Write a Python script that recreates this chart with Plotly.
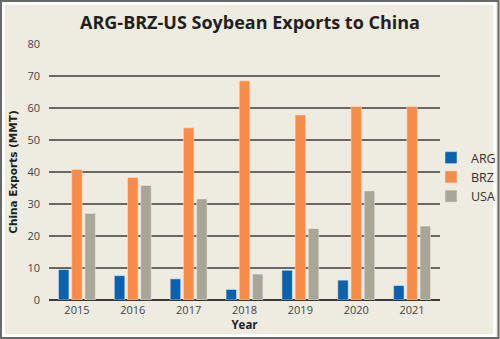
import plotly.graph_objects as go

years = ["2015", "2016", "2017", "2018", "2019", "2020", "2021"]
arg = [9.5, 7.6, 6.6, 3.3, 9.3, 6.2, 4.5]
brz = [40.8, 38.3, 53.8, 68.5, 57.8, 60.5, 60.5]
usa = [27.0, 35.8, 31.6, 8.1, 22.3, 34.1, 23.1]
y_ticks = [0, 10, 20, 30, 40, 50, 60, 70, 80]

W, H = 500, 339
L, R, T, B = 49, 60, 44, 39
pw, ph = W - L - R, H - T - B

def px(x):
    return (x - L) / pw

def py(y):
    return (H - B - y) / ph

fig = go.Figure()
fig.add_bar(name="ARG", x=years, y=arg, marker_color="#0A62AE")
fig.add_bar(name="BRZ", x=years, y=brz, marker_color="#F98B48")
fig.add_bar(name="USA", x=years, y=usa, marker_color="#A8A797")

font = "Open Sans"
fig.update_layout(
    width=W, height=H,
    margin=dict(l=L, r=R, t=T, b=B, autoexpand=False),
    paper_bgcolor="#EEEBE1", plot_bgcolor="#EEEBE1",
    barmode="group", bargap=0.29, bargroupgap=0.21,
    font=dict(family=font, color="#444444", size=11),
    title=dict(text="<b>ARG-BRZ-US Soybean Exports to China</b>",
               x=0.5, xanchor="center", y=1 - 23 / H, yanchor="middle",
               font=dict(size=18, color="#231F20", family=font)),
    legend=dict(x=px(431), y=py(143), xanchor="left", yanchor="top",
                bgcolor="rgba(0,0,0,0)", font=dict(size=12.5, color="#333333"),
                itemclick=False),
    showlegend=True,
)
fig.update_yaxes(range=[0, 80], tickvals=y_ticks, showgrid=True,
                 gridcolor="#6A6862", gridwidth=1.5, zeroline=True,
                 zerolinecolor="#3A3A36", zerolinewidth=1.5,
                 ticklabelstandoff=8, automargin=False,
                 title=dict(text="<b>China Exports (MMT)</b>", standoff=7,
                            font=dict(size=10.5, color="#231F20", family="DejaVu Sans")))
fig.update_xaxes(showgrid=False, ticklabelstandoff=2, automargin=False,
                 title=dict(text="<b>Year</b>", standoff=0,
                            font=dict(size=11.5, color="#231F20")))

# outer frame
fig.add_shape(type="rect", xref="paper", yref="paper",
              x0=px(3.5), x1=px(494.5), y0=py(335.5), y1=py(3.5),
              line=dict(color="white", width=3), fillcolor="rgba(0,0,0,0)", layer="above")
fig.add_shape(type="rect", xref="paper", yref="paper",
              x0=px(1), x1=px(498.5), y0=py(338), y1=py(1),
              line=dict(color="#6A6A6A", width=2), fillcolor="rgba(0,0,0,0)", layer="above")

fig.write_html("out.html")
